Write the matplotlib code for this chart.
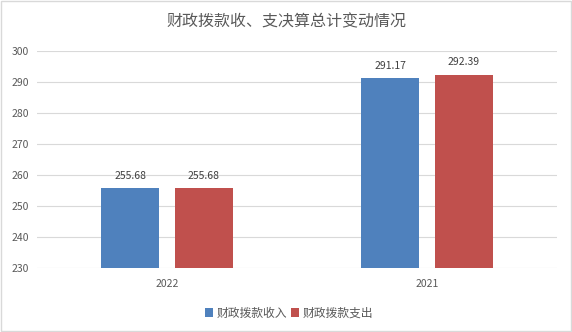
import matplotlib.pyplot as plt
import numpy as np
from matplotlib.patches import Rectangle

plt.rcParams['font.family'] = ['Noto Sans CJK SC', 'DejaVu Sans']

years = ["2022", "2021"]
income = [255.68, 291.17]
spend = [255.68, 292.39]
series_names = ["财政拨款收入", "财政拨款支出"]
colors = ["#4f81bd", "#c0504d"]

fig = plt.figure(figsize=(5.72, 3.32), dpi=100)
ax = fig.add_axes([37/572, 1-268/332, 520/572, 217/332])

x = np.arange(len(years))
w = 0.223
off = 0.142
b1 = ax.bar(x - off, income, w, bottom=0, color=colors[0], label=series_names[0])
b2 = ax.bar(x + off, spend, w, bottom=0, color=colors[1], label=series_names[1])
for bars, vals in ((b1, income), (b2, spend)):
    for b, v in zip(bars, vals):
        ax.text(b.get_x() + b.get_width()/2, v + 2.5, f"{v:.2f}",
                ha="center", va="bottom", fontsize=7.5, color="#404040")

ax.set_xlim(-0.5, 1.5)
ax.set_ylim(230, 300)
ax.set_yticks(range(230, 301, 10))
ax.set_xticks(x)
ax.set_xticklabels(years)
ax.yaxis.grid(True, color="#d9d9d9", linewidth=0.8)
ax.set_axisbelow(True)
for s in ax.spines.values():
    s.set_visible(False)
ax.tick_params(length=0, labelsize=7.5, colors="#595959", pad=6)
ax.tick_params(axis="x", pad=8)

fig.suptitle("财政拨款收、支决算总计变动情况", y=0.96, fontsize=11.5, color="#595959")
fig.legend(loc="center", bbox_to_anchor=(0.505, 0.057), ncol=2, frameon=False,
           fontsize=8.5, handlelength=0.7, handleheight=0.7, handletextpad=0.3,
           columnspacing=0.3, labelcolor="#595959")

fig.patches.append(Rectangle((0.001, 0.002), 0.997, 0.995, transform=fig.transFigure,
                             fill=False, edgecolor="#d9d9d9", linewidth=1))
fig.savefig("out.png", dpi=100)
